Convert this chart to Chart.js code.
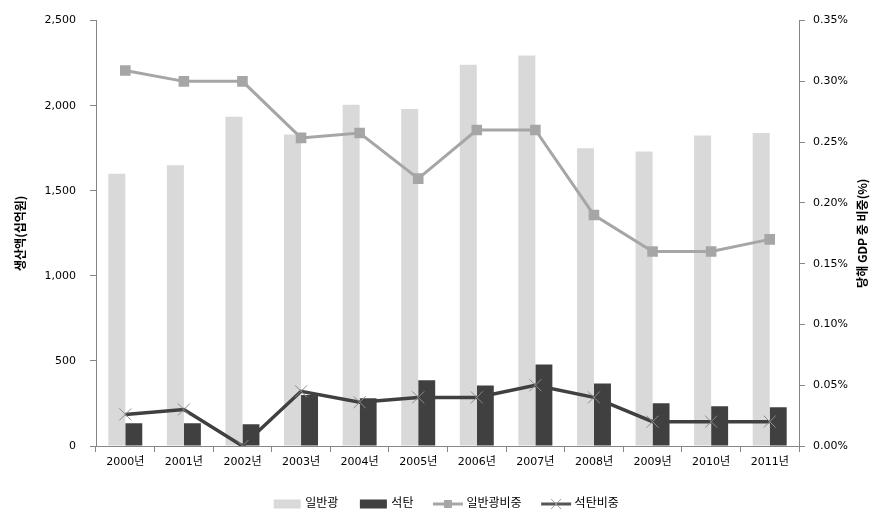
<!DOCTYPE html>
<html>
<head>
<meta charset="utf-8">
<script src="https://cdn.jsdelivr.net/npm/chart.js@4/dist/chart.umd.min.js"></script>
<style>
  html, body { margin: 0; padding: 0; background: #fff; }
  #wrap { width: 893px; height: 523px; }
</style>
</head>
<body>
<div id="wrap"><canvas id="chart" width="893" height="523"></canvas></div>
<script>
/* ===== 데이터 ===== */
const years = ['2000년', '2001년', '2002년', '2003년', '2004년', '2005년', '2006년', '2007년', '2008년', '2009년', '2010년', '2011년'];
const generalOre = [1600, 1650, 1935, 1830, 2005, 1980, 2240, 2295, 1750, 1730, 1825, 1840];
const coal = [134, 134, 128, 300, 280, 386, 356, 479, 368, 251, 234, 228];
const generalShare = [0.309, 0.300, 0.300, 0.2535, 0.2575, 0.220, 0.260, 0.260, 0.190, 0.160, 0.160, 0.170];
const coalShare = [0.026, 0.030, 0.000, 0.045, 0.036, 0.040, 0.040, 0.050, 0.040, 0.020, 0.020, 0.020];
const leftTicks = [0, 500, 1000, 1500, 2000, 2500];
const rightTicks = [0, 0.05, 0.10, 0.15, 0.20, 0.25, 0.30, 0.35];

const LIGHT = '#d9d9d9';
const DARK = '#404040';
const GREY_LINE = '#a6a6a6';
const AXIS = '#868686';
const FONT = "'DejaVu Sans', 'Noto Sans CJK KR', sans-serif";

// 범례용 아이콘 (캔버스)
function legendIcon(kind) {
    const c = document.createElement('canvas');
    c.width = 32; c.height = 12;
    const g = c.getContext('2d');
    if (kind === 'light' || kind === 'dark') {
        g.fillStyle = kind === 'light' ? LIGHT : DARK;
        g.fillRect(3, 1.5, 27, 9);
    } else if (kind === 'sq') {
        g.strokeStyle = GREY_LINE; g.lineWidth = 3;
        g.beginPath(); g.moveTo(1, 6); g.lineTo(31, 6); g.stroke();
        g.fillStyle = GREY_LINE; g.fillRect(12, 2, 8, 8);
    } else {
        g.strokeStyle = '#555'; g.lineWidth = 3;
        g.beginPath(); g.moveTo(1, 6); g.lineTo(31, 6); g.stroke();
        g.strokeStyle = '#999'; g.lineWidth = 1;
        g.beginPath(); g.moveTo(11, 1); g.lineTo(21, 11); g.moveTo(21, 1); g.lineTo(11, 11); g.stroke();
    }
    return c;
}
const icons = [legendIcon('light'), legendIcon('dark'), legendIcon('sq'), legendIcon('x')];

// 축 제목 (좌/우 모두 아래→위)
const axisTitles = {
    id: 'axisTitles',
    afterDraw(chart) {
        const { ctx, chartArea } = chart;
        const cy = (chartArea.top + chartArea.bottom) / 2;
        ctx.save();
        ctx.font = "bold 12px 'Noto Sans CJK KR', sans-serif";
        ctx.fillStyle = '#000';
        ctx.textAlign = 'center';
        ctx.textBaseline = 'middle';
        [[20, '생산액(십억원)'], [862, '당해 GDP 중 비중(%)']].forEach(([x, t]) => {
            ctx.save();
            ctx.translate(x, cy);
            ctx.rotate(-Math.PI / 2);
            ctx.fillText(t, 0, 0);
            ctx.restore();
        });
        ctx.restore();
    }
};

new Chart(document.getElementById('chart'), {
    type: 'bar',
    data: {
        labels: years,
        datasets: [
            {
                label: '일반광비중', type: 'line', data: generalShare, yAxisID: 'y1', order: 0,
                borderColor: GREY_LINE, borderWidth: 3, backgroundColor: GREY_LINE,
                pointStyle: 'rect', pointRadius: 7.5, pointBorderWidth: 0, pointBackgroundColor: GREY_LINE,
                tension: 0
            },
            {
                label: '석탄비중', type: 'line', data: coalShare, yAxisID: 'y1', order: 0,
                borderColor: DARK, borderWidth: 3.5, backgroundColor: DARK,
                pointStyle: 'crossRot', pointRadius: 8.5, pointBorderWidth: 1, pointBorderColor: '#8c8c8c',
                tension: 0
            },
            {
                label: '일반광', data: generalOre, yAxisID: 'y', order: 1,
                backgroundColor: LIGHT, barPercentage: 1, categoryPercentage: 0.58
            },
            {
                label: '석탄', data: coal, yAxisID: 'y', order: 1,
                backgroundColor: DARK, barPercentage: 1, categoryPercentage: 0.58
            }
        ]
    },
    options: {
        responsive: false,
        animation: false,
        layout: { padding: { top: 19, right: 0, left: 0, bottom: 3 } },
        plugins: {
            tooltip: { enabled: false },
            legend: {
                position: 'bottom',
                labels: {
                    font: { size: 12, family: FONT },
                    color: '#000',
                    usePointStyle: true,
                    pointStyleWidth: 25,
                    padding: 22,
                    generateLabels(chart) {
                        const names = ['일반광', '석탄', '일반광비중', '석탄비중'];
                        const dsIdx = [2, 3, 0, 1];
                        return names.map((n, i) => ({
                            text: n, datasetIndex: dsIdx[i], pointStyle: icons[i],
                            fontColor: '#000', lineWidth: 0, hidden: false
                        }));
                    }
                }
            }
        },
        scales: {
            x: {
                offset: true,
                grid: { offset: true, drawOnChartArea: false, color: AXIS, tickLength: 6 },
                border: { color: AXIS },
                ticks: { font: { size: 11, family: FONT }, color: '#000', padding: 4, maxRotation: 0 },
                afterFit: s => { s.height = 30; }
            },
            y: {
                position: 'left', min: 0, max: 2500,
                afterBuildTicks: s => { s.ticks = leftTicks.map(v => ({ value: v })); },
                grid: { drawOnChartArea: false, color: AXIS, tickLength: 6 },
                border: { color: AXIS },
                ticks: {
                    font: { size: 11, family: FONT }, color: '#000', padding: 14,
                    callback: v => v.toLocaleString('en-US')
                },
                afterFit: s => { s.width = 96; }
            },
            y1: {
                position: 'right', min: 0, max: 0.35,
                afterBuildTicks: s => { s.ticks = rightTicks.map(v => ({ value: v })); },
                grid: { drawOnChartArea: false, color: AXIS, tickLength: 6 },
                border: { color: AXIS },
                ticks: {
                    font: { size: 11, family: FONT }, color: '#000', padding: 8,
                    callback: v => v.toFixed(2) + '%'
                },
                afterFit: s => { s.width = 94; }
            }
        }
    },
    plugins: [axisTitles]
});
</script>
</body>
</html>
